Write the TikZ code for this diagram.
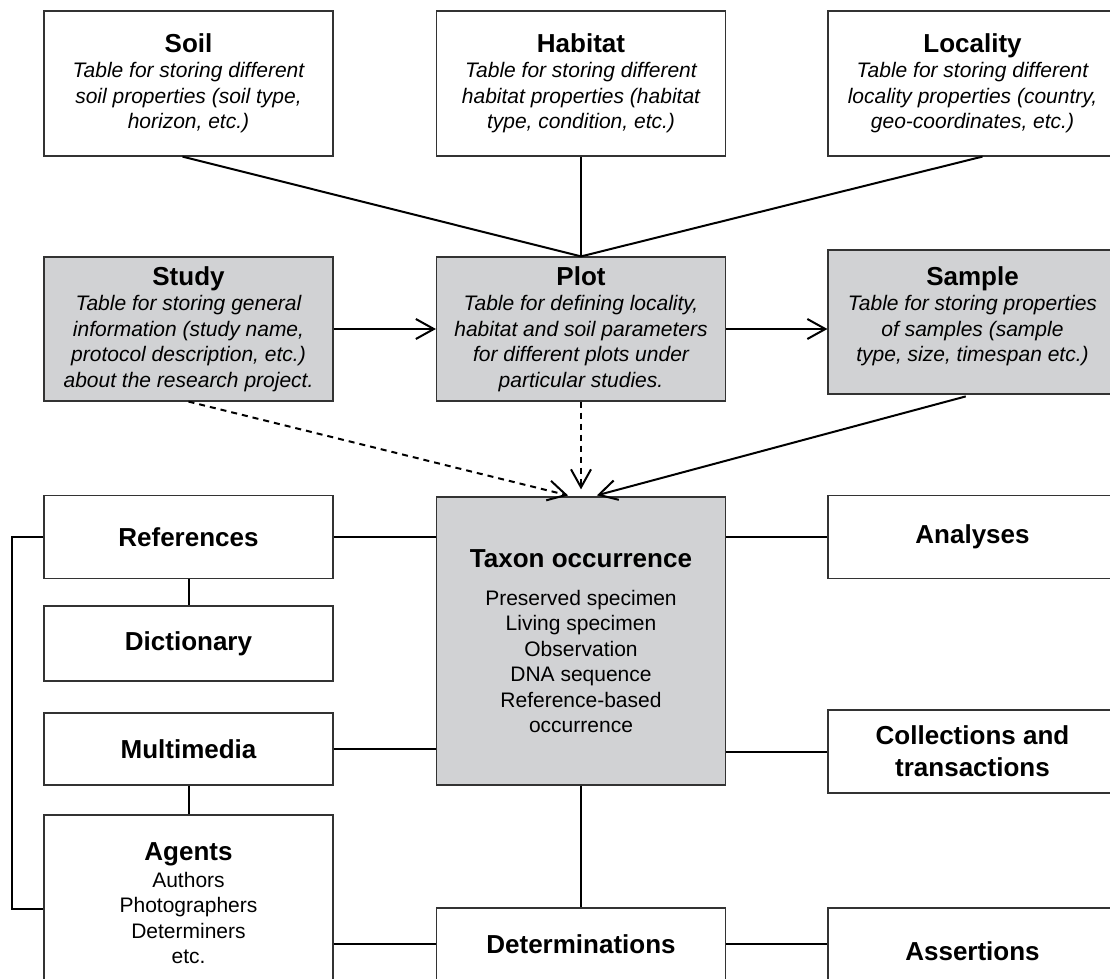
\documentclass[tikz,border=0pt]{standalone}
\usepackage{fontspec}
\setmainfont{Liberation Sans}
\usetikzlibrary{arrows.meta,positioning}
\definecolor{coregray}{RGB}{209,210,212}
\newcommand{\tblhead}[1]{{\fontsize{13}{12.75}\selectfont\upshape\bfseries #1}}

\begin{document}
\begin{tikzpicture}[x = 0.5pt, y = -0.5pt,
  tbl/.style = {draw = black!80, line width = 0.6pt, shape = rectangle, minimum width = 144.5pt, inner sep = 0pt, align = center, font = \fontsize{10.5}{12.75}\selectfont},
  note/.style = {tbl, font = \fontsize{10.5}{12.75}\selectfont\itshape},
  core/.style = {note, fill = coregray},
  link/.style = {line width = 1pt},
  flow/.style = {link, -{Straight Barb[length = 9pt, width = 10pt]}},
  hint/.style = {flow, dash pattern = on 3pt off 2.5pt}]
\useasboundingbox (0,0) rectangle (1110,979);
\clip (0,0) rectangle (1110,979);
% site tables
\node[note, minimum height = 72.5pt] (soil) at (188.5,83.5) {\tblhead{Soil}\\ Table for storing different\\ soil properties (soil type,\\ horizon, etc.)};
\node[note, minimum height = 72.5pt] (habitat) at (581,83.5) {\tblhead{Habitat}\\ Table for storing different\\ habitat properties (habitat\\ type, condition, etc.)};
\node[note, minimum height = 72.5pt] (locality) at (972.5,83.5) {\tblhead{Locality}\\ Table for storing different\\ locality properties (country,\\ geo-coordinates, etc.)};
% project tables
\node[core, minimum height = 72pt] (study) at (188.5,329) {\tblhead{Study}\\ Table for storing general\\ information (study name,\\ protocol description, etc.)\\ about the research project.};
\node[core, minimum height = 72pt] (plot) at (581,329) {\tblhead{Plot}\\ Table for defining locality,\\ habitat and soil parameters\\ for different plots under\\ particular studies.};
\node[core, minimum height = 72pt, text depth = 8pt] (sample) at (972.5,322) {\tblhead{Sample}\\ Table for storing properties\\ of samples (sample\\ type, size, timespan etc.)};
% occurrence and satellites
\node[tbl, fill = coregray, minimum height = 144pt] (taxon) at (581,641) {\tblhead{Taxon occurrence}\\[6.25pt] Preserved specimen\\ Living specimen\\ Observation\\ DNA sequence\\ Reference-based\\ occurrence};
\node[tbl, minimum height = 41.5pt] (refs) at (188.5,537) {\tblhead{References}};
\node[tbl, minimum height = 37.5pt] (dict) at (188.5,643.5) {\tblhead{Dictionary}};
\node[tbl, minimum height = 36pt] (media) at (188.5,749) {\tblhead{Multimedia}};
\node[tbl, minimum height = 88pt] (agents) at (188.5,903) {\tblhead{Agents}\\[0.75pt] Authors\\ Photographers\\ Determiners\\ etc.};
\node[tbl, minimum height = 36pt] (dets) at (581,944) {\tblhead{Determinations}};
\node[tbl, minimum height = 41.5pt] (analyses) at (972.5,537) {\tblhead{Analyses}};
\node[tbl, minimum height = 41.5pt, font = \fontsize{13}{16}\selectfont\bfseries] (colls) at (972.5,751.5) {Collections and\\ transactions};
\node[tbl, minimum height = 43.5pt] (asserts) at (972.5,951.5) {\tblhead{Assertions}};
% links
\draw[link] ([xshift = -3pt]soil.south) -- (plot.north);
\draw[link] (habitat.south) -- (plot.north);
\draw[link] ([xshift = 5pt]locality.south) -- (plot.north);
\draw[flow] (study.east) -- (study.east -| plot.west);
\draw[flow] (plot.east) -- (plot.east -| sample.west);
\draw[hint, shorten >= 2pt] (study.south) -- ([xshift = -4.5pt]taxon.north);
\draw[hint, shorten >= 3.5pt] (plot.south) -- (taxon.north);
\draw[flow, shorten <= 3.5pt, shorten >= 2pt] (sample.south) -- ([xshift = 6pt]taxon.north);
\draw[link] (refs.east) -- (refs.east -| taxon.west);
\draw[link] (refs.south) -- (dict.north);
\draw[link] (media.east) -- (media.east -| taxon.west);
\draw[link] (media.south) -- (agents.north);
\draw[link] (refs.west) -- ++(-31,0) |- ([yshift = -3pt]agents.west);
\draw[link] (agents.east |- dets.west) -- (dets.west);
\draw[link] (taxon.south) -- (dets.north);
\draw[link] (dets.east) -- (dets.east -| asserts.west);
\draw[link] (taxon.east |- analyses.west) -- (analyses.west);
\draw[link] (taxon.east |- colls.west) -- (colls.west);
\end{tikzpicture}
\end{document}
